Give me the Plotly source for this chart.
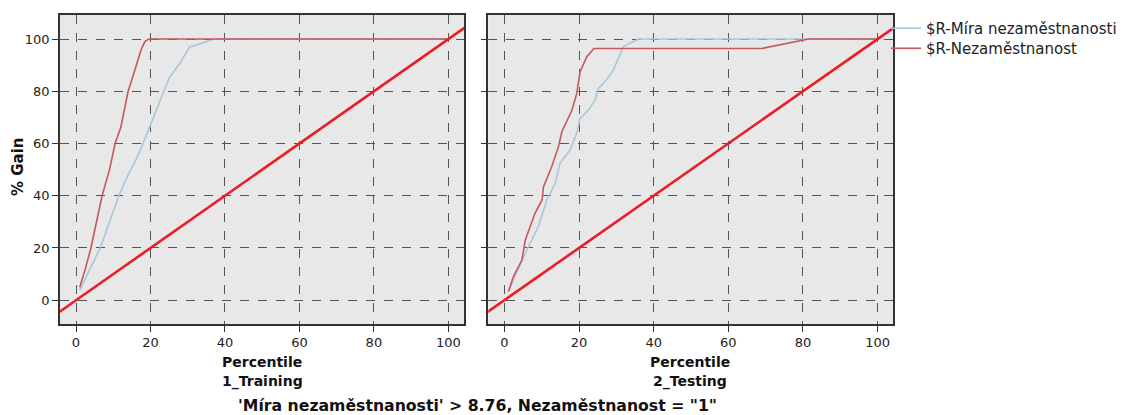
import plotly.graph_objects as go

# ---- data ----
train_x_rate = [1, 3, 6.5, 9, 11.5, 14, 16.5, 18, 20, 22.5, 25, 28, 30.5, 33, 37, 100]
train_y_rate = [4, 10, 20, 30, 40, 48, 55, 60, 67, 76, 85, 91, 97, 98, 100, 100]
train_x_unemp = [1, 2.5, 4, 5.5, 7, 9, 10.5, 12, 13, 14, 16, 17.5, 18.5, 19.5, 100]
train_y_unemp = [5, 12, 20, 30, 40, 50, 60, 66, 73, 80, 89, 96, 99, 100, 100]

test_x_rate = [1.1, 2.4, 6.0, 9.1, 11.4, 13.6, 14.9, 17.6, 19.4, 20.3, 22.5, 24.3, 25.2, 27.5, 29.2, 31.9, 35.9, 100]
test_y_rate = [3.3, 7.8, 19.2, 28.2, 38.4, 44.7, 52.4, 57.5, 63.9, 69.6, 72.7, 76.7, 81.1, 84.6, 88.1, 97.1, 100, 100]
test_x_unemp = [1.1, 2.4, 4.7, 5.6, 8.2, 10.1, 10.5, 12.7, 14.5, 15.4, 18.1, 19.4, 20.3, 22.1, 24.0, 69.0, 81.5, 100]
test_y_unemp = [3.3, 9.0, 15.4, 23.0, 33.3, 38.4, 43.5, 51.2, 58.8, 64.5, 72.7, 79.2, 87.5, 93.2, 96.4, 96.4, 100, 100]

baseline_x = [-10, 110]
baseline_y = [-10, 110]

tick_vals = [0, 20, 40, 60, 80, 100]
series_names = ["$R-Míra nezaměstnanosti", "$R-Nezaměstnanost"]
panel_names = ["1_Training", "2_Testing"]
title_text = "'Míra nezaměstnanosti' > 8.76, Nezaměstnanost = \"1\""

BLUE = "#a9c7dc"
RED = "#c4585c"
DIAG = "#ec1c24"
FONT = "DejaVu Sans"

fig = go.Figure()

panels = [
    ("x", "y", train_x_rate, train_y_rate, train_x_unemp, train_y_unemp),
    ("x2", "y2", test_x_rate, test_y_rate, test_x_unemp, test_y_unemp),
]
for i, (xa, ya, xr, yr, xu, yu) in enumerate(panels):
    fig.add_trace(go.Scatter(x=xr, y=yr, mode="lines", line=dict(color=BLUE, width=1.6),
                             name=series_names[0], showlegend=(i == 0), legend="legend",
                             xaxis=xa, yaxis=ya))
    fig.add_trace(go.Scatter(x=xu, y=yu, mode="lines", line=dict(color=RED, width=1.6),
                             name=series_names[1], showlegend=(i == 0), legend="legend2",
                             xaxis=xa, yaxis=ya))
    fig.add_trace(go.Scatter(x=baseline_x, y=baseline_y, mode="lines",
                             line=dict(color=DIAG, width=2.6), showlegend=False,
                             xaxis=xa, yaxis=ya, hoverinfo="skip"))

W, H = 1125, 415
dom_y = [1 - 324 / H, 1 - 15 / H]
axis_common = dict(
    range=[-4.3, 104.2], tickvals=tick_vals, ticks="outside", ticklen=6, tickcolor="#333",
    showgrid=True, gridcolor="#555", griddash="dash", gridwidth=1,
    zeroline=False, showline=True, linecolor="#333", linewidth=1.5, mirror=True,
    tickfont=dict(family=FONT, size=13, color="#222"),
)
yaxis_common = dict(axis_common)
yaxis_common["range"] = [-9.1, 109.2]

legend_common = dict(xanchor="left", yanchor="top",
                     font=dict(family=FONT, size=15, color="#222"),
                     bgcolor="rgba(0,0,0,0)", itemwidth=30)

fig.update_layout(
    width=W, height=H,
    margin=dict(l=0, r=0, t=0, b=0, autoexpand=False),
    paper_bgcolor="white", plot_bgcolor="#e8e8e8",
    font=dict(family=FONT, color="#222"),
    xaxis=dict(domain=[60 / W, 464 / W], anchor="y", **axis_common),
    yaxis=dict(domain=dom_y, anchor="x", **yaxis_common),
    xaxis2=dict(domain=[488.3 / W, 893.3 / W], anchor="y2", **axis_common),
    yaxis2=dict(domain=dom_y, anchor="x2", showticklabels=False, **yaxis_common),
    legend=dict(x=886 / W, y=1 - 12 / H, **legend_common),
    legend2=dict(x=886 / W, y=1 - 32 / H, **legend_common),
    showlegend=True,
)

annos = [
    dict(x=262 / W, y=1 - 362 / H, text="<b>Percentile</b>", size=14),
    dict(x=262 / W, y=1 - 381 / H, text="<b>" + panel_names[0] + "</b>", size=14),
    dict(x=690 / W, y=1 - 362 / H, text="<b>Percentile</b>", size=14),
    dict(x=690 / W, y=1 - 381 / H, text="<b>" + panel_names[1] + "</b>", size=14),
    dict(x=477 / W, y=1 - 405 / H, text="<b>" + title_text + "</b>", size=15.7),
]
for a in annos:
    sz = a.pop("size")
    fig.add_annotation(xref="paper", yref="paper", showarrow=False, xanchor="center", yanchor="middle",
                       font=dict(family=FONT, size=sz, color="#111"), **a)
fig.add_annotation(xref="paper", yref="paper", showarrow=False, x=18 / W, y=1 - 167 / H,
                   text="<b>% Gain</b>", textangle=-90, xanchor="center", yanchor="middle",
                   font=dict(family=FONT, size=15, color="#111"))

fig.write_html("out.html")
